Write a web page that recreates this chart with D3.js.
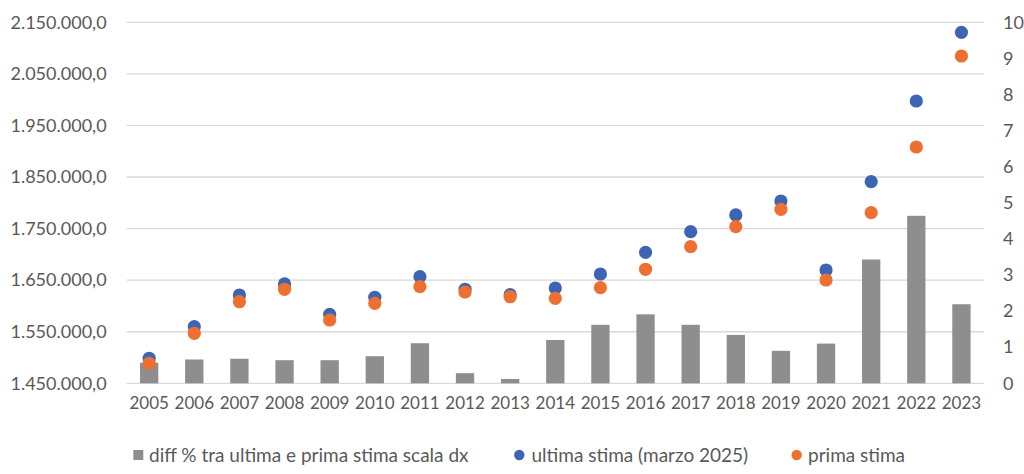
<!DOCTYPE html>
<html>
<head>
<meta charset="utf-8">
<script src="https://cdn.jsdelivr.net/npm/d3@7"></script>
<style>
  html, body { margin: 0; padding: 0; background: #ffffff; }
  svg { display: block; }
  text { font-family: Lato, "Open Sans", sans-serif; fill: #595959; }
</style>
</head>
<body>
<svg id="chart" width="1024" height="474"></svg>
<script>
// Categories (years)
const years = ["2005","2006","2007","2008","2009","2010","2011","2012","2013","2014",
               "2015","2016","2017","2018","2019","2020","2021","2022","2023"];

// Percentage difference between latest and first estimate (right axis)
const diffPct = [0.57, 0.66, 0.68, 0.64, 0.64, 0.75, 1.11, 0.28, 0.12, 1.20,
                 1.62, 1.91, 1.62, 1.34, 0.90, 1.10, 3.43, 4.64, 2.19];

// Latest estimate (March 2025), left axis
const ultimaStima = [1498500, 1559800, 1621200, 1642600, 1583800, 1616800, 1656700, 1632300, 1621800, 1634800,
                     1661900, 1704000, 1744000, 1776400, 1803500, 1669700, 1840900, 1997400, 2130600];

// First estimate, left axis
const primaStima = [1488800, 1547000, 1608200, 1632300, 1572700, 1605100, 1637300, 1627000, 1617900, 1614800,
                    1635400, 1671100, 1714900, 1753700, 1787400, 1650300, 1780800, 1908200, 2084700];

// Axis ticks
const leftTicks = [1450000, 1550000, 1650000, 1750000, 1850000, 1950000, 2050000, 2150000];
const rightTicks = [0, 1, 2, 3, 4, 5, 6, 7, 8, 9, 10];

// Legend labels
const legendLabels = ["diff % tra ultima e prima stima scala dx", "ultima stima (marzo 2025)", "prima stima"];

const colors = { bar: "#8e8e8e", ultima: "#3d65b4", prima: "#ee7030", grid: "#d9d9d9" };

const svg = d3.select("#chart");
const plot = { left: 126.6, right: 984, top: 22.3, bottom: 383.3 };

const x = d3.scaleBand().domain(years).range([plot.left, plot.right]).paddingInner(0).paddingOuter(0);
const yLeft = d3.scaleLinear().domain([1450000, 2150000]).range([plot.bottom, plot.top]);
const yRight = d3.scaleLinear().domain([0, 10]).range([plot.bottom, plot.top]);

const it = d3.formatLocale({ decimal: ",", thousands: ".", grouping: [3], currency: ["€", ""] });
const fmtLeft = it.format(",.1f");

// Horizontal gridlines at left ticks
svg.append("g")
  .selectAll("line")
  .data(leftTicks)
  .join("line")
  .attr("x1", plot.left)
  .attr("x2", plot.right)
  .attr("y1", d => yLeft(d))
  .attr("y2", d => yLeft(d))
  .attr("stroke", colors.grid)
  .attr("stroke-width", 1.3);

// Left axis
const leftAxis = svg.append("g")
  .attr("transform", `translate(${plot.left},0)`)
  .call(d3.axisLeft(yLeft).tickValues(leftTicks).tickFormat(fmtLeft).tickSize(0).tickPadding(20));
leftAxis.select(".domain").remove();
leftAxis.selectAll("text").style("font-size", "18px").style("fill", "#595959")
  .style("font-family", "Lato, 'Open Sans', sans-serif");

// Right axis
const rightAxis = svg.append("g")
  .attr("transform", `translate(${plot.right},0)`)
  .call(d3.axisRight(yRight).tickValues(rightTicks).tickFormat(d3.format("d")).tickSize(0).tickPadding(19));
rightAxis.select(".domain").remove();
rightAxis.selectAll("text").style("font-size", "18px").style("fill", "#595959")
  .style("font-family", "Lato, 'Open Sans', sans-serif");

// Bottom axis (years)
const bottomAxis = svg.append("g")
  .attr("transform", `translate(0,${plot.bottom})`)
  .call(d3.axisBottom(x).tickSize(0).tickPadding(14));
bottomAxis.select(".domain").remove();
bottomAxis.selectAll("text").style("font-size", "17px").style("fill", "#595959")
  .style("font-family", "Lato, 'Open Sans', sans-serif");

// Bars: percentage difference on the right scale
const barW = 18.3;
svg.append("g")
  .selectAll("rect")
  .data(years.map((y, i) => ({ year: y, v: diffPct[i] })))
  .join("rect")
  .attr("x", d => x(d.year) + x.bandwidth() / 2 - barW / 2)
  .attr("width", barW)
  .attr("y", d => yRight(d.v))
  .attr("height", d => yRight(0) - yRight(d.v))
  .attr("fill", colors.bar);

// Dots: latest estimate
svg.append("g")
  .selectAll("circle")
  .data(years.map((y, i) => ({ year: y, v: ultimaStima[i] })))
  .join("circle")
  .attr("cx", d => x(d.year) + x.bandwidth() / 2)
  .attr("cy", d => yLeft(d.v))
  .attr("r", 6.6)
  .attr("fill", colors.ultima);

// Dots: first estimate
svg.append("g")
  .selectAll("circle")
  .data(years.map((y, i) => ({ year: y, v: primaStima[i] })))
  .join("circle")
  .attr("cx", d => x(d.year) + x.bandwidth() / 2)
  .attr("cy", d => yLeft(d.v))
  .attr("r", 6.6)
  .attr("fill", colors.prima);

// Legend
const legend = svg.append("g").style("font-size", "19px");
const legY = 455;
legend.append("rect").attr("x", 133.3).attr("y", legY - 5).attr("width", 10).attr("height", 10).attr("fill", colors.bar);
legend.append("text").attr("x", 149).attr("y", legY).attr("dy", "0.35em").text(legendLabels[0]);
legend.append("circle").attr("cx", 519.3).attr("cy", legY).attr("r", 5.2).attr("fill", colors.ultima);
legend.append("text").attr("x", 531.5).attr("y", legY).attr("dy", "0.35em").text(legendLabels[1]);
legend.append("circle").attr("cx", 796.7).attr("cy", legY).attr("r", 5.2).attr("fill", colors.prima);
legend.append("text").attr("x", 808).attr("y", legY).attr("dy", "0.35em").text(legendLabels[2]);
</script>
</body>
</html>
